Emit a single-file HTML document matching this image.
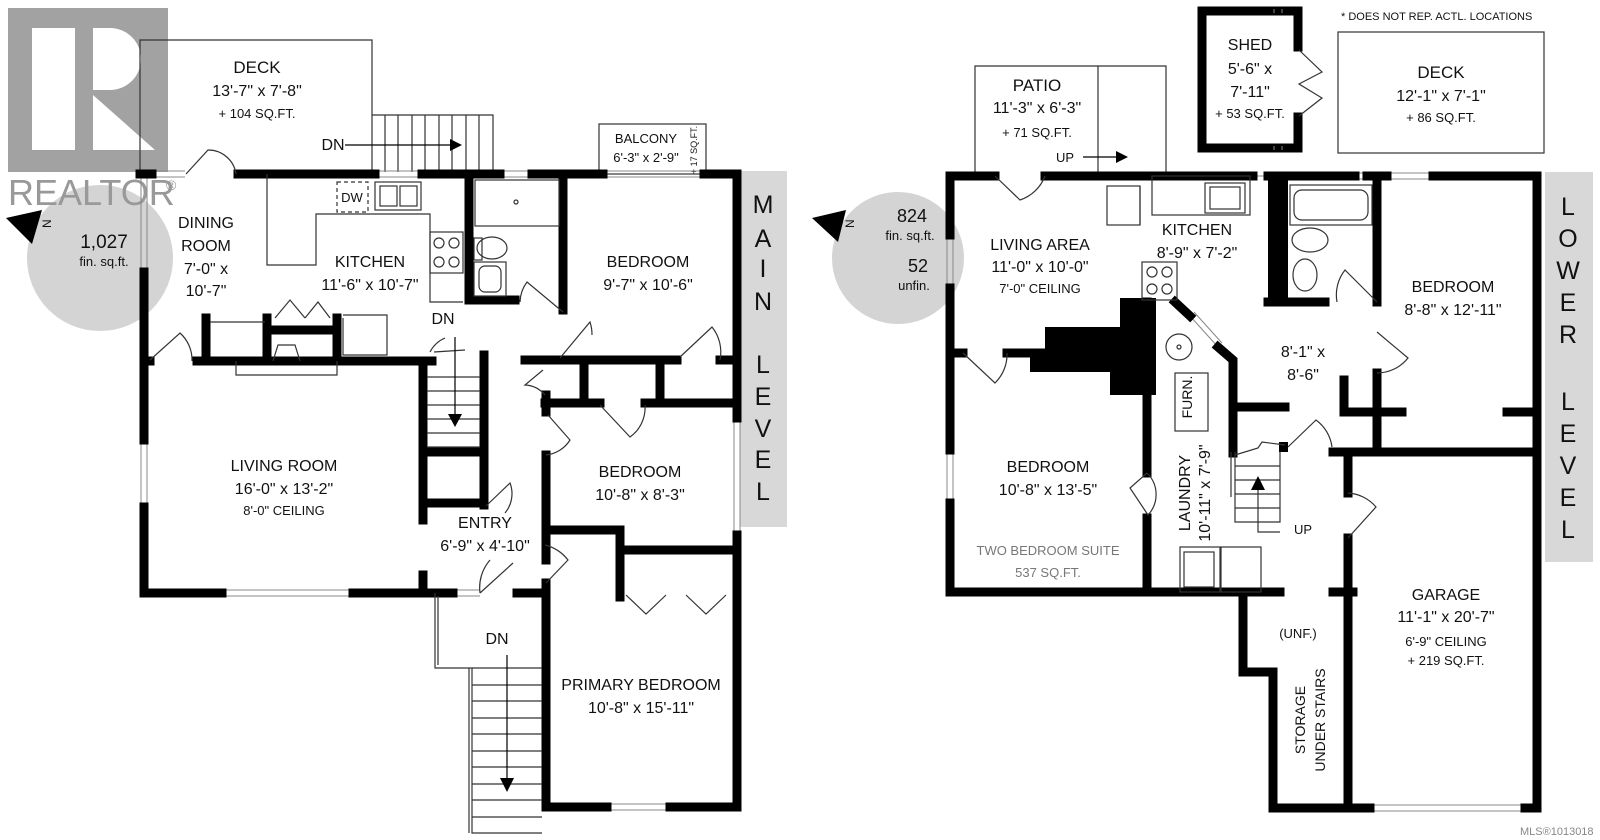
<!DOCTYPE html>
<html><head><meta charset="utf-8"><style>
html,body{margin:0;padding:0;background:#fff}
svg{display:block}
text{font-family:"Liberation Sans",sans-serif;fill:#111}
.t{font-size:16px;text-anchor:middle}
.s{font-size:13px;text-anchor:middle}
.w{stroke:#000;stroke-width:9;fill:none;stroke-linecap:square}
.th{stroke:#333;stroke-width:1.2;fill:none}
.win{stroke:#888;stroke-width:1;fill:none}
.lv{font-size:25px;text-anchor:middle}
</style></head><body>
<svg width="1600" height="840" viewBox="0 0 1600 840" xmlns="http://www.w3.org/2000/svg">
<!-- Main circle -->
<circle cx="100" cy="258" r="73" fill="#d4d4d4"/>
<!-- REALTOR logo -->
<rect x="8" y="8" width="160" height="164" fill="#9a9a9a" opacity="0.92"/>
<rect x="32" y="28" width="43" height="122" fill="#fff"/>
<path d="M93 28 H110 A31 31 0 0 1 110 90 H93 Z M93 95 L155 150 H93 Z" fill="#fff"/>
<text x="8" y="205" style="font-size:36px;fill:#999">REALTOR</text><text x="166" y="190" style="font-size:14px;fill:#999">®</text>
<text class="t" x="104" y="248" style="font-size:19px">1,027</text>
<text class="s" x="104" y="266">fin. sq.ft.</text>
<polygon points="6,218 42,210 32,244" fill="#000"/>
<text x="47" y="232" style="font-size:12px" transform="rotate(-90 47 228)">N</text>
<!-- MAIN LEVEL band -->
<rect x="740" y="171" width="47" height="356" fill="#d8d8d8"/>
<g class="lv">
<text x="763" y="213">M</text><text x="763" y="247">A</text><text x="763" y="277">I</text><text x="763" y="310">N</text>
<text x="763" y="373">L</text><text x="763" y="405">E</text><text x="763" y="437">V</text><text x="763" y="468">E</text><text x="763" y="500">L</text></g>
<!-- Deck main -->
<path class="th" d="M140 172 V40 H372 V172 M372 115 H493 V172"/>
<g class="th"><path d="M385 115V172M398 115V172M412 115V172M425 115V172M439 115V172M452 115V172M466 115V172M479 115V172"/></g>
<line x1="345" y1="145" x2="452" y2="145" stroke="#000" stroke-width="1.2"/><polygon points="450,139 462,145 450,151"/>
<text class="t" x="257" y="73" style="font-size:17px">DECK</text><text class="t" x="257" y="96">13'-7" x 7'-8"</text><text class="s" x="257" y="118">+ 104 SQ.FT.</text>
<text class="t" x="333" y="150">DN</text>
<rect x="599" y="124" width="107" height="50" class="th"/>
<text class="s" x="646" y="143">BALCONY</text><text class="s" x="646" y="162">6'-3" x 2'-9"</text>
<text x="697" y="150" style="font-size:9px" transform="rotate(-90 697 150)" text-anchor="middle">+ 17 SQ.FT.</text>
<!-- main windows -->
<path class="win" d="M155 171 H185 M155 177 H185 M375 171 H422 M375 177 H422 M500 171 H532 M500 177 H532 M603 171 H704 M603 177 H704 M141 178 V272 M147 178 V272 M141 440 V507 M147 440 V507 M222 590 H353 M222 596 H353 M453 590 H480 M453 596 H480 M734 418 V535 M740 418 V535 M607 804 H670 M607 810 H670"/>
<!-- Main walls -->
<path class="w" d="M140 174 H152 M238 174 H375 M422 174 H500 M532 174 H603 M704 174 H737 V418 M737 535 V807 H670 M607 807 H546 V583 M546 560 V455 M546 412 V395"/>
<path class="w" d="M144 272 V440 M144 507 V593 H222 M353 593 H453 M517 593 H546 M423 575 V593"/>
<path class="w" d="M197 361 H432 M206 318 V361 M267 318 V361 M337 318 V361 M267 330 H337 M144 361 H150"/>
<path class="w" d="M423 361 V520 M484 355 V505 M423 452 H484 M423 503 H484"/>
<path class="w" d="M469 174 V300 H515 M563 174 V310 M525 360 H537"/>
<path class="w" d="M543 360 H677 M720 360 H737 M584 360 V403 M660 360 V403 M545 403 H600 M645 403 H737"/>
<path class="w" d="M546 530 H620 V597 M620 550 H737"/>
<!-- Kitchen features -->
<path class="th" d="M267 174 V265 H316 V214 H430 V302 H463"/>
<rect x="337" y="182" width="31" height="30" class="th" stroke-dasharray="4 3"/><text class="s" x="352" y="202">DW</text>
<rect x="375" y="182" width="46" height="28" class="th"/><rect x="380" y="186" width="17" height="20" class="th"/><rect x="400" y="186" width="17" height="20" class="th"/>
<rect x="430" y="232" width="33" height="41" class="th"/>
<circle cx="439" cy="243" r="5" class="th"/><circle cx="454" cy="243" r="5" class="th"/><circle cx="439" cy="262" r="5" class="th"/><circle cx="454" cy="262" r="5" class="th"/>
<rect x="475" y="180" width="84" height="46" class="th"/><circle cx="516" cy="202" r="2" class="th"/>
<ellipse cx="492" cy="248" rx="15" ry="11" class="th"/><rect x="474" y="238" width="8" height="22" class="th"/>
<rect x="474" y="262" width="32" height="34" class="th"/><rect x="479" y="266" width="22" height="26" rx="6" class="th"/>
<!-- fireplace & cabinet -->
<path class="th" d="M236 361 V375 H337 V361 M273 361 L278 345 H295 L300 361"/>
<path class="th" d="M343 318 V355 H387 V315 H343"/>
<path class="th" d="M210 322 H265"/>
<!-- doors main -->
<path class="th" d="M186 174 L208 150 A28 28 0 0 1 236 174"/>
<path class="th" d="M150 360 L180 333 A36 36 0 0 1 192 361"/>
<path class="th" d="M275 318 L290 300 L305 318 M305 318 L318 302 L330 318"/>
<path class="th" d="M434 352 L465 350 M430 352 A30 30 0 0 1 445 338"/>
<path class="th" d="M486 506 L510 483 A30 30 0 0 1 505 513"/>
<path class="th" d="M563 312 L527 282 A35 35 0 0 0 520 302 M560 358 L590 322 A40 40 0 0 1 592 335"/>
<path class="th" d="M680 357 L712 327 A40 40 0 0 1 720 360"/>
<path class="th" d="M543 370 L525 385 A28 28 0 0 1 545 395 M600 405 L630 437 A36 36 0 0 0 645 405 M548 415 L570 440 A32 32 0 0 1 546 455"/>
<path class="th" d="M480 593 L513 563 M480 593 A42 42 0 0 1 490 560 M546 583 L568 560 A42 42 0 0 0 545 545"/>
<path class="th" d="M626 595 L646 614 L666 595 M686 595 L706 614 L726 595"/>
<!-- main stairs -->
<g class="th"><path d="M427 377H480M427 391H480M427 405H480M427 419H480M427 433H480M427 447H480"/></g>
<line x1="455" y1="337" x2="455" y2="415" stroke="#000" stroke-width="1.2"/><polygon points="448,414 455,427 462,414"/>
<path class="th" d="M435 593 V668 H472 V833 H542 M438 596 V665 M469 668 V833"/>
<g class="th"><path d="M472 668H542M472 685H542M472 701H542M472 718H542M472 734H542M472 751H542M472 767H542M472 784H542M472 800H542M472 817H542"/></g>
<line x1="507" y1="655" x2="507" y2="780" stroke="#000" stroke-width="1.2"/><polygon points="500,778 507,792 514,778"/>
<!-- main labels -->
<text class="t" x="206" y="228">DINING</text><text class="t" x="206" y="251">ROOM</text><text class="t" x="206" y="274">7'-0" x</text><text class="t" x="206" y="296">10'-7"</text>
<text class="t" x="370" y="267">KITCHEN</text><text class="t" x="370" y="290">11'-6" x 10'-7"</text>
<text class="t" x="443" y="324">DN</text>
<text class="t" x="648" y="267">BEDROOM</text><text class="t" x="648" y="290">9'-7" x 10'-6"</text>
<text class="t" x="640" y="477">BEDROOM</text><text class="t" x="640" y="500">10'-8" x 8'-3"</text>
<text class="t" x="284" y="471">LIVING ROOM</text><text class="t" x="284" y="494">16'-0" x 13'-2"</text><text class="s" x="284" y="515">8'-0" CEILING</text>
<text class="t" x="485" y="528">ENTRY</text><text class="t" x="485" y="551">6'-9" x 4'-10"</text>
<text class="t" x="497" y="644">DN</text>
<text class="t" x="641" y="690">PRIMARY BEDROOM</text><text class="t" x="641" y="713">10'-8" x 15'-11"</text>

<!-- LOWER -->
<circle cx="898" cy="258" r="66" fill="#d4d4d4"/>
<text class="t" x="912" y="222" style="font-size:18px">824</text><text class="s" x="910" y="240">fin. sq.ft.</text>
<text class="t" x="918" y="272" style="font-size:18px">52</text><text class="s" x="914" y="290">unfin.</text>
<polygon points="812,218 846,210 838,242" fill="#000"/>
<text x="850" y="232" style="font-size:12px" transform="rotate(-90 850 228)">N</text>
<rect x="1545" y="172" width="48" height="390" fill="#d8d8d8"/>
<g class="lv">
<text x="1568" y="215">L</text><text x="1568" y="247">O</text><text x="1568" y="279">W</text><text x="1568" y="311">E</text><text x="1568" y="343">R</text>
<text x="1568" y="410">L</text><text x="1568" y="442">E</text><text x="1568" y="474">V</text><text x="1568" y="506">E</text><text x="1568" y="538">L</text></g>
<text x="1341" y="20" style="font-size:11px">* DOES NOT REP. ACTL. LOCATIONS</text>
<!-- patio -->
<path class="th" d="M975 176 V66 H1166 V176 M1098 66 V176"/>
<text class="t" x="1037" y="91" style="font-size:17px">PATIO</text><text class="t" x="1037" y="113">11'-3" x 6'-3"</text><text class="s" x="1037" y="137">+ 71 SQ.FT.</text>
<text class="s" x="1065" y="162">UP</text><line x1="1083" y1="157" x2="1118" y2="157" stroke="#000" stroke-width="1.2"/><polygon points="1116,151 1128,157 1116,163"/>
<!-- shed -->
<path class="w" d="M1298 47 V11 H1202 V148 H1298 V117"/>
<path class="win" d="M1274 9 V13 M1282 9 V13 M1274 146 V150 M1282 146 V150"/>
<path class="th" d="M1299 50 L1322 72 L1299 84 L1322 98 L1299 116"/>
<text class="t" x="1250" y="50">SHED</text><text class="t" x="1250" y="74">5'-6" x</text><text class="t" x="1250" y="97">7'-11"</text><text class="s" x="1250" y="118">+ 53 SQ.FT.</text>
<rect x="1338" y="32" width="206" height="121" class="th"/>
<text class="t" x="1441" y="78" style="font-size:17px">DECK</text><text class="t" x="1441" y="101">12'-1" x 7'-1"</text><text class="s" x="1441" y="122">+ 86 SQ.FT.</text>
<!-- lower windows -->
<path class="win" d="M1355 173 H1367 M1355 179 H1367 M1387 173 H1433 M1387 179 H1433 M947 235 V288 M953 235 V288 M947 450 V503 M953 450 V503 M1370 805 H1525 M1370 811 H1525 M1253 176 H1268 M1190 316 L1218 347 M1194 312 L1222 343"/>
<!-- lower walls -->
<path class="w" d="M950 176 H995 M1045 176 H1253 M1268 176 H1355 M1367 176 H1387 M1433 176 H1537 V808 H1525 M1370 808 H1273 V672 H1243 V592 M950 176 V235 M950 288 V450 M950 503 V592 H1280"/>
<path class="w" d="M950 353 H963 M1007 353 H1045 M1147 302 V473 M1147 518 V592"/>
<polygon points="1120,298 1156,298 1156,395 1110,395 1110,372 1030,372 1030,357 1007,357 1007,349 1045,349 1045,327 1120,327" fill="#000"/>
<path class="w" d="M1175 302 L1190 316 M1218 347 L1233 360 V453 M1233 407 H1285"/>
<rect x="1279" y="442" width="9" height="10" fill="#000"/>
<rect x="1268" y="176" width="20" height="126" fill="#000"/>
<path class="w" d="M1268 302 H1325 M1377 176 V302 M1377 373 V452 M1344 380 V412 H1402 M1507 412 H1537 M1333 452 H1537 M1348 452 V493 M1348 538 V808 M1333 592 H1353"/>
<!-- lower fixtures -->
<rect x="1107" y="186" width="33" height="39" class="th"/>
<rect x="1152" y="176" width="98" height="39" class="th"/><rect x="1205" y="183" width="40" height="30" class="th"/><rect x="1210" y="187" width="30" height="22" class="th"/>
<rect x="1142" y="262" width="35" height="38" class="th"/>
<circle cx="1152" cy="272" r="5" class="th"/><circle cx="1167" cy="272" r="5" class="th"/><circle cx="1152" cy="289" r="5" class="th"/><circle cx="1167" cy="289" r="5" class="th"/>
<rect x="1290" y="185" width="82" height="40" class="th"/><rect x="1294" y="190" width="74" height="30" rx="8" class="th"/>
<ellipse cx="1310" cy="240" rx="18" ry="12" class="th"/><ellipse cx="1305" cy="275" rx="12" ry="16" class="th"/>
<circle cx="1179" cy="347" r="13" class="th"/><circle cx="1179" cy="347" r="2" class="th"/>
<rect x="1175" y="373" width="33" height="58" class="th"/>
<text x="1197" y="402" style="font-size:14px" transform="rotate(-90 1192 402)" text-anchor="middle">FURN.</text>
<rect x="1180" y="547" width="40" height="45" class="th"/><rect x="1184" y="552" width="30" height="35" class="th"/><rect x="1221" y="547" width="40" height="45" class="th"/>
<path class="th" d="M1140 186 V225"/>
<!-- stairs lower -->
<path class="th" d="M1235 452 V522 H1280 V452 M1231 452 V497"/>
<g class="th"><path d="M1235 466H1280M1235 480H1280M1235 494H1280M1235 508H1280"/></g>
<path class="th" d="M1258 490 V532 H1280 M1235 455 L1258 448 L1262 442 L1285 445"/>
<polygon points="1251,490 1258,476 1265,490" fill="#000"/>
<!-- doors lower -->
<path class="th" d="M995 176 L1020 200 A40 40 0 0 0 1045 176"/>
<path class="th" d="M963 353 L995 383 A40 40 0 0 0 1007 353"/>
<path class="th" d="M1147 473 L1130 488 L1148 515 A30 30 0 0 0 1147 473"/>
<path class="th" d="M1377 302 L1345 270 A40 40 0 0 0 1337 302 M1377 332 L1408 358 A40 40 0 0 1 1377 373"/>
<path class="th" d="M1288 447 L1316 420 A40 40 0 0 1 1332 447"/>
<path class="th" d="M1348 538 L1376 507 A40 40 0 0 0 1348 493"/>
<!-- lower labels -->
<text class="t" x="1040" y="250">LIVING AREA</text><text class="t" x="1040" y="272">11'-0" x 10'-0"</text><text class="s" x="1040" y="293">7'-0" CEILING</text>
<text class="t" x="1197" y="235">KITCHEN</text><text class="t" x="1197" y="258">8'-9" x 7'-2"</text>
<text class="t" x="1303" y="357">8'-1" x</text><text class="t" x="1303" y="380">8'-6"</text>
<text class="t" x="1453" y="292">BEDROOM</text><text class="t" x="1453" y="315">8'-8" x 12'-11"</text>
<text class="t" x="1048" y="472">BEDROOM</text><text class="t" x="1048" y="495">10'-8" x 13'-5"</text>
<text class="s" x="1048" y="555" style="fill:#777">TWO BEDROOM SUITE</text><text class="s" x="1048" y="577" style="fill:#777">537 SQ.FT.</text>
<text x="1190" y="493" style="font-size:16px" transform="rotate(-90 1190 493)" text-anchor="middle">LAUNDRY</text>
<text x="1210" y="493" style="font-size:16px" transform="rotate(-90 1210 493)" text-anchor="middle">10'-11" x 7'-9"</text>
<text class="s" x="1303" y="534">UP</text>
<text class="s" x="1298" y="638">(UNF.)</text>
<text x="1305" y="720" style="font-size:14px" transform="rotate(-90 1305 720)" text-anchor="middle">STORAGE</text>
<text x="1325" y="720" style="font-size:14px" transform="rotate(-90 1325 720)" text-anchor="middle">UNDER STAIRS</text>
<text class="t" x="1446" y="600">GARAGE</text><text class="t" x="1446" y="622">11'-1" x 20'-7"</text><text class="s" x="1446" y="646">6'-9" CEILING</text><text class="s" x="1446" y="665">+ 219 SQ.FT.</text>
<text x="1520" y="835" style="font-size:11px;fill:#888">MLS®1013018</text>
</svg>
</body></html>
